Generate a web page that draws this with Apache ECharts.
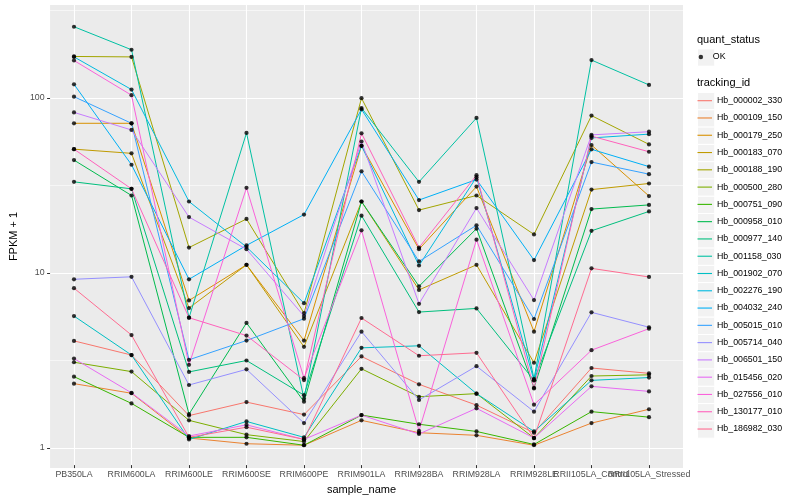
<!DOCTYPE html>
<html><head><meta charset="utf-8">
<script src="https://cdn.jsdelivr.net/npm/echarts@6/dist/echarts.min.js"></script>
<style>html,body{margin:0;padding:0;background:#fff}#c{width:800px;height:500px}</style>
</head><body><div id="c"></div>
<script>
// ---- data ----
const categories = ['PB350LA','RRIM600LA','RRIM600LE','RRIM600SE','RRIM600PE','RRIM901LA','RRIM928BA','RRIM928LA','RRIM928LE','RRII105LA_Control','RRII105LA_Stressed'];
const trackingIds = ['Hb_000002_330','Hb_000109_150','Hb_000179_250','Hb_000183_070','Hb_000188_190','Hb_000500_280','Hb_000751_090','Hb_000958_010','Hb_000977_140','Hb_001158_030','Hb_001902_070','Hb_002276_190','Hb_004032_240','Hb_005015_010','Hb_005714_040','Hb_006501_150','Hb_015456_020','Hb_027556_010','Hb_130177_010','Hb_186982_030'];
const trackingColors = ['#F8766D','#EA8331','#D89000','#C09B00','#A3A500','#7CAE00','#39B600','#00BB4E','#00BF7D','#00C1A3','#00BFC4','#00BAE0','#00B0F6','#35A2FF','#9590FF','#C77CFF','#E76BF3','#FA62DB','#FF62BC','#FF6C91'];
const quantStatus = ['OK'];

const Hb_000002_330 = [3.98, 3.3, 1.48, 1.77, 1.50, 3.24, 2.24, 1.70, 1.18, 2.78, 2.59];
const Hb_000109_150 = [2.26, 1.99, 1.10, 1.02, 1.00, 1.39, 1.18, 1.14, 1.00, 1.34, 1.61];
const Hb_000179_250 = [71, 71, 6.8, 10.9, 4.0, 52.7, 13.4, 30.7, 4.5, 53.2, 27.1];
const Hb_000183_070 = [50.4, 47.7, 6.15, 10.9, 3.68, 25.2, 7.82, 10.9, 2.98, 29.5, 32];
const Hb_000188_190 = [172, 171, 13.7, 20, 5.75, 99, 22.5, 27.3, 16.3, 78.6, 53.7];
const Hb_000500_280 = [3.0, 2.65, 1.39, 1.15, 1.05, 2.75, 1.90, 1.98, 1.10, 2.50, 2.54];
const Hb_000751_090 = [2.48, 1.74, 1.11, 1.11, 1.00, 1.49, 1.32, 1.20, 1.01, 1.56, 1.45];
const Hb_000958_010 = [43.6, 27.3, 1.51, 5.05, 1.78, 25.2, 8.2, 17.6, 2.14, 22.8, 24.1];
const Hb_000977_140 = [32.7, 29.8, 2.64, 3.07, 1.94, 20.9, 5.83, 6.12, 2.36, 17.1, 22.1];
const Hb_001158_030 = [255, 188, 5.41, 62.5, 1.85, 86.9, 32.7, 76.2, 2.41, 164, 118];
const Hb_001902_070 = [5.53, 3.3, 1.08, 1.37, 1.11, 3.63, 3.73, 1.98, 1.20, 2.36, 2.45];
const Hb_002276_190 = [171, 111, 25.2, 13.8, 6.56, 52.7, 10.8, 34.8, 2.36, 58.5, 61.5];
const Hb_004032_240 = [119, 41, 9.0, 14.1, 21.2, 85.4, 25.7, 33.7, 11.6, 50.3, 40];
const Hb_005015_010 = [101, 71, 3.1, 4.0, 5.34, 37.6, 11.4, 18.4, 5.32, 42.5, 36.2];
const Hb_005714_040 = [9.0, 9.3, 2.22, 2.73, 1.34, 4.5, 1.82, 2.85, 1.56, 5.81, 4.77];
const Hb_006501_150 = [82, 65, 20.5, 13.4, 5.53, 55.8, 6.5, 23.1, 6.83, 60.9, 63.5];
const Hb_015456_020 = [3.15, 2.0, 1.13, 1.31, 1.08, 1.49, 1.16, 1.63, 1.10, 2.18, 2.04];
const Hb_027556_010 = [163, 103, 2.9, 30.2, 2.43, 17.2, 1.21, 15.2, 1.71, 3.52, 4.68];
const Hb_130177_010 = [50.4, 29.8, 5.41, 4.27, 2.37, 62.2, 13.7, 35.7, 2.12, 59.9, 48.7];
const Hb_186982_030 = [8.0, 4.3, 1.11, 1.27, 1.08, 5.39, 3.27, 3.4, 1.10, 10.4, 9.28];

const seriesValues = [Hb_000002_330, Hb_000109_150, Hb_000179_250, Hb_000183_070, Hb_000188_190, Hb_000500_280, Hb_000751_090, Hb_000958_010, Hb_000977_140, Hb_001158_030, Hb_001902_070, Hb_002276_190, Hb_004032_240, Hb_005015_010, Hb_005714_040, Hb_006501_150, Hb_015456_020, Hb_027556_010, Hb_130177_010, Hb_186982_030];

const yTicks = [1, 10, 100];
const yMinorTicks = [3.1623, 31.623, 316.23];
const yMin = 0.7686, yMax = 340;

// ---- chart ----
const FONT = 'Liberation Sans, Arial, sans-serif';
const chart = echarts.init(document.getElementById('c'), null, {renderer: 'canvas'});

const KEY = 17.28;
const legendLeft = 697;
const okTop = 48.4;
const tidTop = 92.06;

const lineSeries = trackingIds.map((id, i) => ({
  type: 'line', name: id, xAxisIndex: 1, yAxisIndex: 2,
  data: seriesValues[i], symbol: 'none', showSymbol: false, silent: true,
  lineStyle: {color: trackingColors[i], width: 1}, itemStyle: {color: trackingColors[i]},
  z: 2
}));

const pointData = [];
seriesValues.forEach(vals => vals.forEach((v, j) => pointData.push([categories[j], v])));

const graphics = [];
graphics.push({type: 'rect', left: legendLeft, top: okTop, shape: {width: KEY, height: KEY}, style: {fill: '#F2F2F2', stroke: '#fff', lineWidth: 1}, z: 0});
trackingIds.forEach((id, i) => {
  graphics.push({type: 'rect', left: legendLeft, top: tidTop + i * KEY, shape: {width: KEY, height: KEY}, style: {fill: '#F2F2F2', stroke: '#fff', lineWidth: 1}, z: 0});
});

chart.setOption({
  animation: false,
  backgroundColor: '#fff',
  textStyle: {fontFamily: FONT},
  title: [
    {text: 'quant_status', left: legendLeft, top: 34, padding: 0, textStyle: {fontSize: 11, fontWeight: 'normal', color: '#000', fontFamily: FONT}},
    {text: 'tracking_id', left: legendLeft, top: 77.8, padding: 0, textStyle: {fontSize: 11, fontWeight: 'normal', color: '#000', fontFamily: FONT}}
  ],
  grid: [
    {left: 40, right: 117, top: 5, bottom: 32, show: true, backgroundColor: '#EBEBEB', borderWidth: 0, containLabel: false},
    {left: 74, right: 151, top: 5, bottom: 32, containLabel: false}
  ],
  xAxis: [
    {gridIndex: 0, type: 'value', min: 0, max: 1, show: false},
    {gridIndex: 1, type: 'category', data: categories, boundaryGap: false,
     axisLine: {show: false},
     axisTick: {show: true, length: 3, lineStyle: {color: '#333', width: 1}},
     axisLabel: {interval: 0, color: '#4D4D4D', fontSize: 8.8, margin: 5, fontFamily: FONT},
     splitLine: {show: true, lineStyle: {color: '#fff', width: 1.1}},
     name: 'sample_name', nameLocation: 'middle', nameGap: 15,
     nameTextStyle: {fontSize: 11, color: '#000', fontFamily: FONT}}
  ],
  yAxis: [
    {gridIndex: 0, type: 'log', logBase: 10, min: yMin, max: yMax,
     axisLine: {show: false},
     axisTick: {show: true, length: 3, lineStyle: {color: '#333', width: 1}, customValues: yTicks},
     axisLabel: {color: '#4D4D4D', fontSize: 8.8, margin: 5.5, fontFamily: FONT, customValues: yTicks, showMinLabel: true, showMaxLabel: true},
     splitLine: {show: true, lineStyle: {color: '#fff', width: 1.1}},
     name: 'FPKM + 1', nameLocation: 'middle', nameGap: 23, nameRotate: 90,
     nameTextStyle: {fontSize: 11, color: '#000', fontFamily: FONT}},
    {gridIndex: 0, type: 'log', logBase: 10, min: yMin, max: yMax,
     axisLine: {show: false},
     axisTick: {show: false, customValues: yMinorTicks},
     axisLabel: {show: false, customValues: yMinorTicks},
     splitLine: {show: true, lineStyle: {color: '#fff', width: 0.55}}},
    {gridIndex: 1, type: 'log', logBase: 10, min: yMin, max: yMax, show: false, splitLine: {show: false}}
  ],
  legend: [
    {data: [{name: 'OK', icon: 'circle'}], orient: 'vertical', left: legendLeft + 1.6, top: okTop,
     itemWidth: 14, itemHeight: 4.5, itemGap: 0, padding: 0, selectedMode: false,
     textStyle: {fontSize: 8.8, color: '#000', lineHeight: KEY, fontFamily: FONT}},
    {data: trackingIds.map((id, i) => ({name: id, icon: 'rect', itemStyle: {color: trackingColors[i]}})),
     orient: 'vertical', left: legendLeft + 0.5, top: tidTop,
     itemWidth: 14.5, itemHeight: 1.1, itemGap: 0, padding: 0, selectedMode: false,
     textStyle: {fontSize: 8.8, color: '#000', lineHeight: KEY, fontFamily: FONT}}
  ],
  graphic: graphics,
  series: lineSeries.concat([{
    type: 'scatter', name: quantStatus[0], xAxisIndex: 1, yAxisIndex: 2,
    data: pointData, symbol: 'circle', symbolSize: 4.2, silent: true,
    itemStyle: {color: '#000'}, z: 3
  }])
});
</script>
</body></html>
